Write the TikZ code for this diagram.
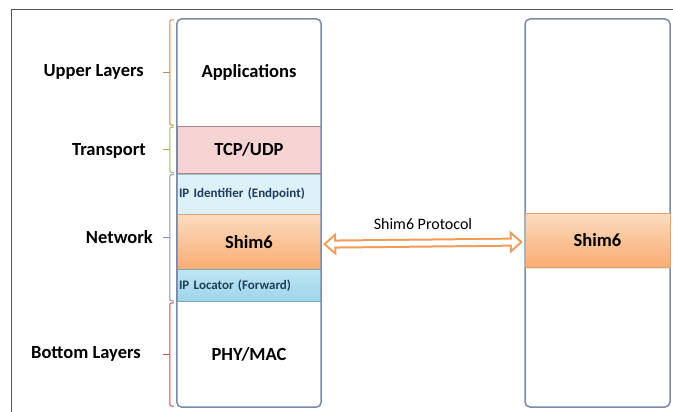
\documentclass[tikz,border=0pt]{standalone}
\usepackage{fontspec}
\setmainfont{Carlito}
\usetikzlibrary{positioning,arrows.meta,shadows,calc}
\definecolor{boxline}{HTML}{7D8AA5}
\definecolor{tcpfill}{HTML}{F6D4D4}
\definecolor{tcpline}{HTML}{A88484}
\definecolor{idfill}{HTML}{DCF1F8}
\definecolor{idline}{HTML}{A3C3CF}
\definecolor{loctop}{HTML}{BDE6F3}
\definecolor{locbot}{HTML}{9DD5E9}
\definecolor{locline}{HTML}{7FA9BA}
\definecolor{shimtop}{HTML}{FCDCC0}
\definecolor{shimbot}{HTML}{F8AC72}
\definecolor{shimline}{HTML}{E3A070}
\definecolor{arrowor}{HTML}{F39A55}
\definecolor{upperc}{HTML}{C98A52}
\definecolor{transc}{HTML}{9BBB59}
\definecolor{netc}{HTML}{8096B5}
\definecolor{bottc}{HTML}{C0504D}
\definecolor{framec}{HTML}{555555}
\definecolor{iptext}{HTML}{1F3D5C}

\begin{document}
\begin{tikzpicture}[x=1pt,y=-1pt,
  layer/.style={rectangle, minimum width=144pt, inner sep=0pt, font=\fontsize{18.5}{20}\selectfont\bfseries},
  iplayer/.style={layer, text width=140pt, inner xsep=2pt, align=left, font=\fontsize{13}{14}\selectfont\bfseries, text=iptext},
  shimbox/.style={layer, top color=shimtop, bottom color=shimbot, draw=shimline, drop shadow={shadow xshift=0pt, shadow yshift=-2pt, opacity=0.2}},
  side/.style={anchor=east, inner sep=0pt, font=\fontsize{18.5}{20}\selectfont\bfseries},
  brace/.style={line width=1pt, rounded corners=2pt}]
\useasboundingbox (0,0) rectangle (673,412);
\draw[framec, line width=1pt] (11,412) -- (11,10) -- (673,10);

\node[layer, minimum height=107pt] (apps) at (249,72.5) {Applications};
\node[layer, minimum height=47pt, fill=tcpfill, draw=tcpline, below=0pt of apps] (tcp) {TCP/UDP};
\node[iplayer, minimum height=40pt, fill=idfill, draw=idline, below=0pt of tcp] (ipid) {IP Identifier (Endpoint)};
\node[shimbox, minimum height=55pt, below=0pt of ipid] (shimL) {Shim6};
\node[iplayer, minimum height=32pt, top color=loctop, bottom color=locbot, draw=locline, below=0pt of shimL] (iploc) {IP Locator (Forward)};
\node[layer, minimum height=105pt, below=0pt of iploc] (phy) {PHY/MAC};
\draw[boxline, line width=1.5pt, rounded corners=5pt] (apps.north west) rectangle (phy.south east);

\node[draw=boxline, line width=1.5pt, rounded corners=5pt, minimum width=145pt, minimum height=388pt] (peer) at (597.5,213) {};
\node[shimbox, minimum width=145pt, minimum height=54pt] (shimR) at (597.5,240) {Shim6};

\draw[arrowor, line width=9pt, {Triangle[length=13pt,width=23pt,line width=0pt]}-{Triangle[length=13pt,width=23pt,line width=0pt]}, shorten <=2pt, shorten >=2pt]
  ([yshift=-2.5pt]shimL.east) -- ([yshift=-2pt]shimR.west)
  node[midway, above=6pt, text=black, font=\fontsize{16}{18}\selectfont] (proto) {Shim6 Protocol};
\draw[white, line width=5pt, {Triangle[length=8pt,width=14pt,line width=0pt]}-{Triangle[length=8pt,width=14pt,line width=0pt]}, shorten <=5pt, shorten >=5pt]
  ([yshift=-2.5pt]shimL.east) -- ([yshift=-2pt]shimR.west);

\draw[brace, upperc] ([xshift=-3pt,yshift=-1pt]apps.north west) -| ([xshift=-7pt,yshift=1pt]apps.south west) -- ([xshift=-3pt,yshift=1pt]apps.south west);
\draw[upperc, line width=1pt] ([xshift=-7pt]apps.west) -- ++(-7,0);
\draw[brace, transc] ([xshift=-3pt,yshift=-1pt]tcp.north west) -| ([xshift=-7pt,yshift=1pt]tcp.south west) -- ([xshift=-3pt,yshift=1pt]tcp.south west);
\draw[transc, line width=1pt] ([xshift=-7pt]tcp.west) -- ++(-7,0);
\draw[brace, netc] ([xshift=-3pt,yshift=-1pt]ipid.north west) -| ([xshift=-7pt,yshift=1pt]iploc.south west) -- ([xshift=-3pt,yshift=1pt]iploc.south west);
\draw[netc, line width=1pt] ($(ipid.north west)!0.5!(iploc.south west)+(-7,0)$) -- ++(-7,0);
\draw[brace, bottc] ([xshift=-3pt,yshift=-1pt]phy.north west) -| ([xshift=-7pt,yshift=1pt]phy.south west) -- ([xshift=-3pt,yshift=1pt]phy.south west);
\draw[bottc, line width=1pt] ([xshift=-7pt]phy.west) -- ++(-7,0);

\node[side] (lupper) at (144,72) {Upper Layers};
\node[side] (ltrans) at (146,151) {Transport};
\node[side] (lnet) at (153,237) {Network};
\node[side] (lbott) at (141,354) {Bottom Layers};
\end{tikzpicture}
\end{document}
